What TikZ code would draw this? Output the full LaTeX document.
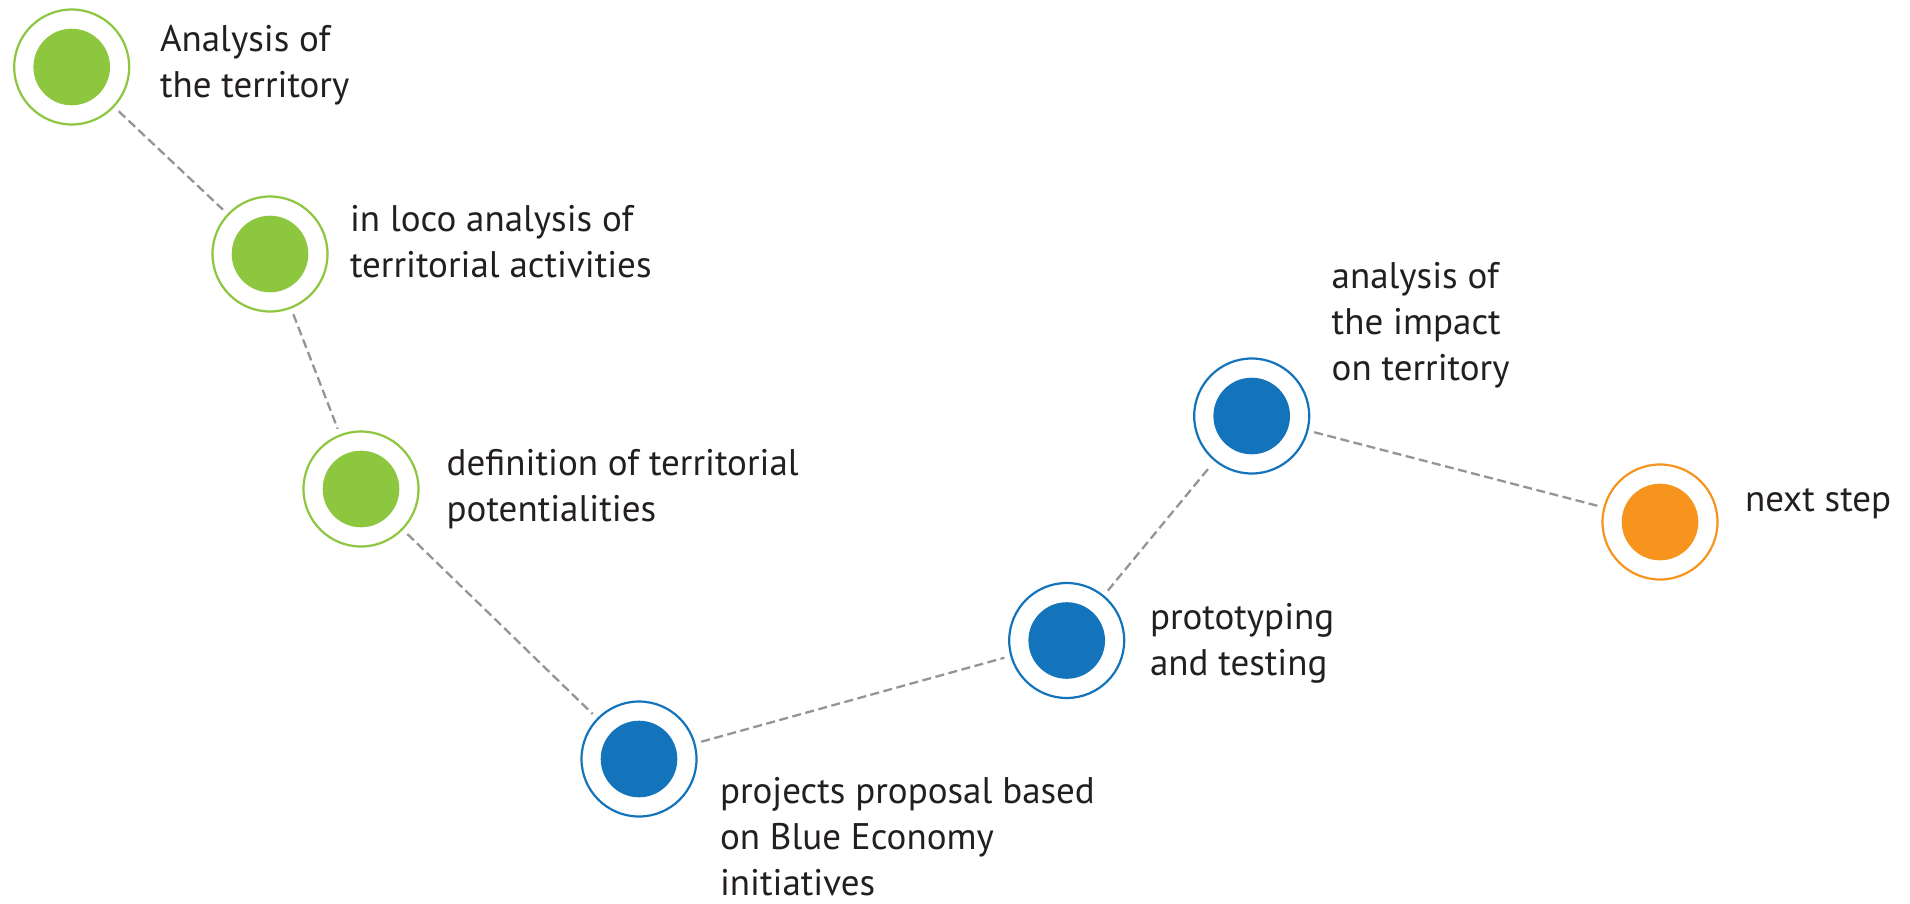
\documentclass[tikz,border=0pt]{standalone}
\usepackage{fontspec}
\setmainfont{PT Sans}
\usetikzlibrary{calc}
\definecolor{cgreen}{HTML}{8DC63F}
\definecolor{cblue}{HTML}{1374BB}
\definecolor{corange}{HTML}{F7941E}
\definecolor{ctext}{HTML}{231F20}
\definecolor{cdash}{HTML}{939598}
\begin{document}
\begin{tikzpicture}[x=1pt,y=-1pt,
  stepnode/.style={circle, draw=#1, line width=2.2pt, minimum size=115pt, inner sep=0pt,
    path picture={\fill[#1] (path picture bounding box.center) circle (38.3pt);}},
  conn/.style={draw=cdash, line width=2.3pt, dash pattern=on 9pt off 4.5pt, shorten >=6pt, shorten <=6pt},
  lbl/.style={anchor=base west, inner sep=0pt, outer sep=0pt, text=ctext,
    font=\fontsize{37}{46}\selectfont}]
\useasboundingbox (0,0) rectangle (1910,904);
\fill[white] (0,0) rectangle (1910,904);

\node[stepnode=cgreen] (n1) at (71.7,67) {};
\node[stepnode=cgreen] (n2) at (270,254) {};
\node[stepnode=cgreen] (n3) at (361,489) {};
\node[stepnode=cblue] (n4) at (639,759) {};
\node[stepnode=cblue] (n5) at (1066.7,640.5) {};
\node[stepnode=cblue] (n6) at (1251.7,416) {};
\node[stepnode=corange] (n7) at (1660,522) {};

\draw[conn] (n1) -- (n2);
\draw[conn] (n2) -- (n3);
\draw[conn] (n3) -- (n4);
\draw[conn] (n4) -- (n5);
\draw[conn] (n5) -- (n6);
\draw[conn] (n6) -- (n7);

\node[lbl] (t1) at (160,51.7) {\begin{tabular}[t]{@{}l@{}}Analysis of\\the territory\end{tabular}};
\node[lbl] (t2) at (350,231.7) {\begin{tabular}[t]{@{}l@{}}in loco analysis of\\territorial activities\end{tabular}};
\node[lbl] (t3) at (446.7,475) {\begin{tabular}[t]{@{}l@{}}definition of territorial\\potentialities\end{tabular}};
\node[lbl] (t4) at (720,803.5) {\begin{tabular}[t]{@{}l@{}}projects proposal based\\on Blue Economy\\initiatives\end{tabular}};
\node[lbl] (t5) at (1150,629.5) {\begin{tabular}[t]{@{}l@{}}prototyping\\and testing\end{tabular}};
\node[lbl] (t6) at (1331.7,288.3) {\begin{tabular}[t]{@{}l@{}}analysis of\\the impact\\on territory\end{tabular}};
\node[lbl] (t7) at (1745,511.7) {next step};
\end{tikzpicture}
\end{document}
